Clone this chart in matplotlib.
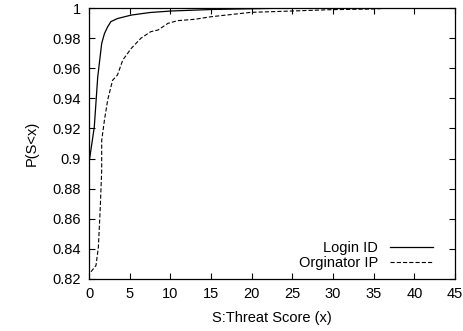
import matplotlib
matplotlib.use("Agg")
import matplotlib.pyplot as plt
import numpy as np

plt.rcParams['font.family'] = ['Liberation Sans', 'DejaVu Sans']
plt.rcParams['lines.scale_dashes'] = False

login_x = [0, 0, 0.65, 1.07, 1.56, 1.9, 2.3, 2.7, 3.5, 5.2, 7.5, 10.1, 15, 20, 25, 45]
login_y = [0.82, 0.897, 0.921, 0.954, 0.9765, 0.983, 0.9876, 0.991, 0.993, 0.9953, 0.997,
           0.998, 0.999, 0.9995, 1.0, 1.0]

orig_x = [0.25, 0.86, 1.15, 1.39, 1.56, 1.56, 1.9, 2.3, 2.9, 3.5, 4.15, 5.2, 6.4, 7.6, 8.5,
          9.7, 10.9, 13, 15, 19.9, 24.9, 29.8, 34.7, 37.5, 45]
orig_y = [0.8248, 0.829, 0.841, 0.868, 0.892, 0.912, 0.9256, 0.939, 0.952, 0.9555, 0.9654,
          0.9732, 0.98, 0.9843, 0.9854, 0.9898, 0.9916, 0.9925, 0.9942, 0.9971, 0.998,
          0.9989, 0.9993, 1.0, 1.0]

xticks = list(range(0, 46, 5))
yticks = [0.82, 0.84, 0.86, 0.88, 0.9, 0.92, 0.94, 0.96, 0.98, 1.0]
ytick_labels = ['0.82', '0.84', '0.86', '0.88', '0.9', '0.92', '0.94', '0.96', '0.98', '1']

fig = plt.figure(figsize=(4.64, 3.31), dpi=100)
ax = fig.add_axes([89/464, 1-279/331, (455-89)/464, (279-8)/331])

ax.plot(login_x, login_y, color='black', lw=0.9, label='Login ID')
ax.plot(orig_x, orig_y, color='black', lw=0.8, dashes=(3, 1.5), label='Orginator IP')

ax.set_xlim(0, 45)
ax.set_ylim(0.82, 1.0)
ax.set_xticks(xticks)
ax.set_xticklabels([str(t) for t in xticks])
ax.set_yticks(yticks)
ax.set_yticklabels(ytick_labels)
ax.tick_params(direction='in', length=4, width=0.8, top=True, right=True,
               labelsize=10.5, pad=6, colors='black')
for s in ax.spines.values():
    s.set_linewidth(0.9)

ax.set_xlabel('S:Threat Score (x)', fontsize=10.5, labelpad=7)
ax.set_ylabel('P(S<x)', fontsize=10.5, labelpad=10)

leg = ax.legend(loc='lower right', frameon=False, markerfirst=False, fontsize=10.5,
                handlelength=3.0, handletextpad=0.8, labelspacing=0.1,
                borderaxespad=0.2, bbox_to_anchor=(0.965, 0.0))
for t in leg.get_texts():
    t.set_ha('right')

fig.savefig('out.png', dpi=100)
